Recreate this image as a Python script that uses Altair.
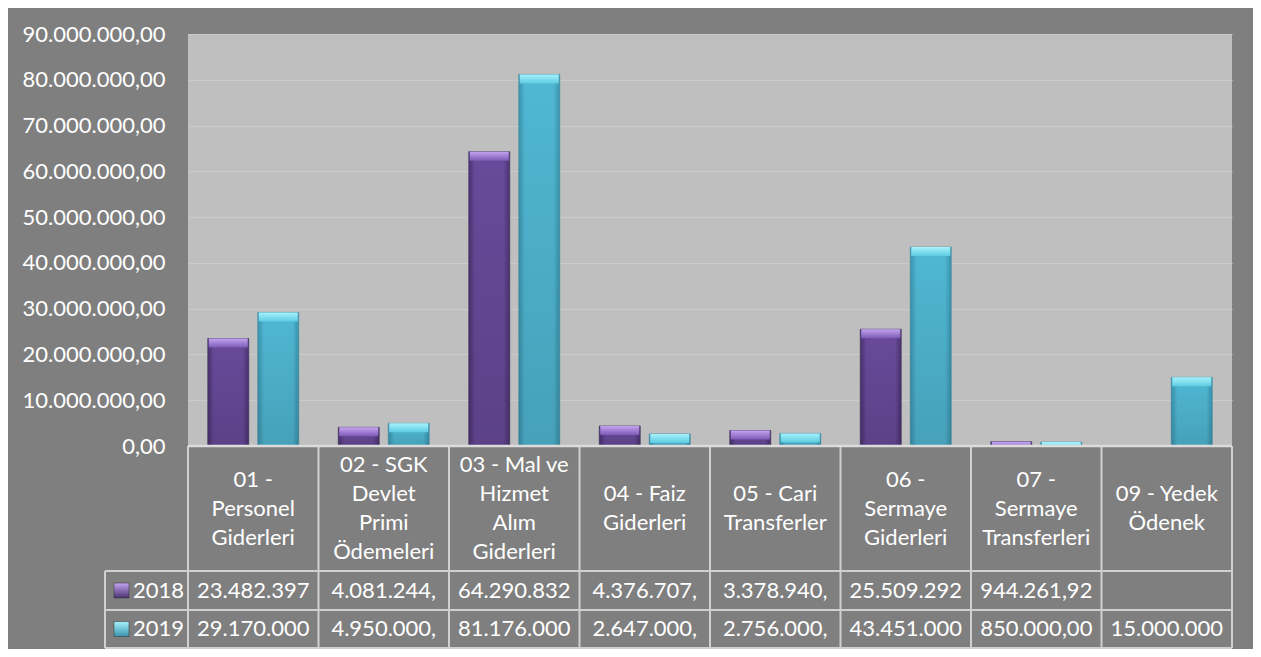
import altair as alt
import pandas as pd

categories = [
    "01 - Personel Giderleri",
    "02 - SGK Devlet Primi Ödemeleri",
    "03 - Mal ve Hizmet Alım Giderleri",
    "04 - Faiz Giderleri",
    "05 - Cari Transferler",
    "06 - Sermaye Giderleri",
    "07 - Sermaye Transferleri",
    "09 - Yedek Ödenek",
]
header_labels = [
    "01 -\nPersonel\nGiderleri",
    "02 - SGK\nDevlet\nPrimi\nÖdemeleri",
    "03 - Mal ve\nHizmet\nAlım\nGiderleri",
    "04 - Faiz\nGiderleri",
    "05 - Cari\nTransferler",
    "06 -\nSermaye\nGiderleri",
    "07 -\nSermaye\nTransferleri",
    "09 - Yedek\nÖdenek",
]
years = ["2018", "2019"]
values_2018 = [23482397, 4081244, 64290832, 4376707, 3378940, 25509292, 944261.92, None]
values_2019 = [29170000, 4950000, 81176000, 2647000, 2756000, 43451000, 850000, 15000000]
y_ticks = [0, 10000000, 20000000, 30000000, 40000000, 50000000, 60000000, 70000000, 80000000, 90000000]


def tr_format(v):
    if v is None:
        return ""
    s = f"{v:,.2f}".replace(",", "#").replace(".", ",").replace("#", ".")
    return s[:10]  # cell is too narrow: text clipped as in the table


rows = []
for yr, vals in zip(years, [values_2018, values_2019]):
    for c, v in zip(categories, vals):
        rows.append({"cat": c, "year": yr, "value": v, "label": tr_format(v)})
df = pd.DataFrame(rows)
hdr = pd.DataFrame({"cat": categories, "text": header_labels})
one = pd.DataFrame({"k": [0]})

FONT = "Lato"
TXT = "#ffffff"
LINE = "#d0d0d0"
LH = 29

xscale = alt.Scale(domain=categories, paddingInner=0, paddingOuter=0)
xenc = alt.X("cat:N", sort=categories, scale=xscale, axis=None)
yscale = alt.Scale(domain=[0, 90000000], nice=False)
label_expr = ("replace(replace(replace(format(datum.value, ',.2f'), regexp(',', 'g'), '#'),"
              " regexp('[.]', 'g'), ','), regexp('#', 'g'), '.')")
yenc = alt.Y("value:Q", scale=yscale,
             axis=alt.Axis(values=y_ticks, labelExpr=label_expr, title=None, ticks=False,
                           domain=False, labelColor=TXT, labelFont=FONT, labelFontSize=22,
                           labelPadding=23, grid=True, gridColor="#cbcbcb", gridWidth=1.2))


def hgrad(edge, mid):
    return alt.Gradient(gradient="linear", x1=0, y1=0, x2=1, y2=0,
                        stops=[alt.GradientStop(color=edge, offset=0),
                               alt.GradientStop(color=mid, offset=0.15),
                               alt.GradientStop(color=mid, offset=0.85),
                               alt.GradientStop(color=edge, offset=1)])


def vgrad(top, bottom):
    return alt.Gradient(gradient="linear", x1=0, y1=0, x2=0, y2=1,
                        stops=[alt.GradientStop(color=top, offset=0),
                               alt.GradientStop(color=bottom, offset=1)])


styles = {
    "2018": dict(off=-25, edge="#4a3270", mid="#684a9a", ctop="#c4a4f0", cbot="#7d5ab6",
                 stroke="#3a2858"),
    "2019": dict(off=25, edge="#3a93ad", mid="#50b7d3", ctop="#a6f2fb", cbot="#5ecbe2",
                 stroke="#3a8aa2"),
}

base = alt.Chart(df)
layers = []
for yr in years:
    st = styles[yr]
    d = base.transform_filter(f"datum.year == '{yr}' && isValid(datum.value)")
    body = d.mark_bar(width=41, xOffset=st["off"], fill=hgrad(st["edge"], st["mid"]),
                      stroke=st["stroke"], strokeWidth=1, strokeOpacity=0.6).encode(
        x=xenc, y=yenc)
    shade = d.mark_bar(width=41, xOffset=st["off"],
                       fill=vgrad("rgba(0,0,0,0)", "rgba(0,0,0,0.12)")).encode(
        x=xenc, y=alt.Y("value:Q", scale=yscale))
    cap = d.mark_bar(width=39, xOffset=st["off"], y2Offset=9, clip=True,
                     fill=vgrad(st["ctop"], st["cbot"])).encode(
        x=xenc, y=alt.Y("value:Q", scale=yscale), y2="value:Q")
    layers += [body, shade, cap]

# data table ------------------------------------------------------------
vlines = alt.Chart(hdr).mark_rule(color=LINE, strokeWidth=2).encode(
    x=alt.X("cat:N", sort=categories, bandPosition=0, scale=xscale, axis=None),
    y=alt.value(412), y2=alt.value(614))
rline = alt.Chart(one).mark_rule(color=LINE, strokeWidth=2).encode(
    x=alt.value(1044), y=alt.value(412), y2=alt.value(614))
lline = alt.Chart(one).mark_rule(color=LINE, strokeWidth=2).encode(
    x=alt.value(-83), y=alt.value(537), y2=alt.value(614))
hl = []
for ypix in [537, 576, 614]:
    hl.append(alt.Chart(one).mark_rule(color=LINE, strokeWidth=2).encode(
        x=alt.value(-83), x2=alt.value(1044), y=alt.value(ypix)))
topline = alt.Chart(one).mark_rule(color="#dcdcdc", strokeWidth=2.5).encode(
    x=alt.value(0), x2=alt.value(1044), y=alt.value(412))

# header cells: multi-line text, vertically centred in the header row
head_layers = []
center = 474.5
for n in [2, 3, 4]:
    head_layers.append(
        alt.Chart(hdr).transform_calculate(n="length(split(datum.text, '\\n'))")
        .transform_filter(f"datum.n == {n}")
        .mark_text(lineBreak="\n", font=FONT, fontSize=22, color=TXT, align="center",
                   baseline="middle", lineHeight=LH)
        .encode(x=xenc, y=alt.value(center - (n - 1) * LH / 2), text="text:N"))

row_text = []
key_layers = []
key_cols = {"2018": ("#c4a4f0", "#4a3270"), "2019": ("#a6f2fb", "#3a93ad")}
for yr, ypix in zip(years, [556.5, 595]):
    d = alt.Chart(df).transform_filter(f"datum.year == '{yr}'")
    row_text.append(d.mark_text(font=FONT, fontSize=22, color=TXT, align="center",
                                baseline="middle").encode(
        x=xenc, y=alt.value(ypix), text="label:N"))
    yd = alt.Chart(pd.DataFrame({"year": [yr]}))
    key_layers.append(yd.mark_rect(fill=vgrad(*key_cols[yr]), stroke="#333333",
                                   strokeWidth=0.5).encode(
        x=alt.value(-74), x2=alt.value(-59), y=alt.value(ypix - 7.5), y2=alt.value(ypix + 7.5)))
    key_layers.append(yd.mark_text(font=FONT, fontSize=22, color=TXT, align="left",
                                   baseline="middle").encode(
        x=alt.value(-55), y=alt.value(ypix), text="year:N"))

chart = alt.layer(
    *layers, vlines, rline, lline, *hl, topline, *head_layers, *row_text, *key_layers
).properties(
    width=1044, height=412,
    padding={"left": 180, "top": 26, "right": 21, "bottom": 203},
    autosize=alt.AutoSizeParams(type="none"),
    background="#7f7f7f",
).configure_view(fill="#bfbfbf", strokeWidth=0)

chart.save("out.html", embed_options={"renderer": "svg", "actions": False})
